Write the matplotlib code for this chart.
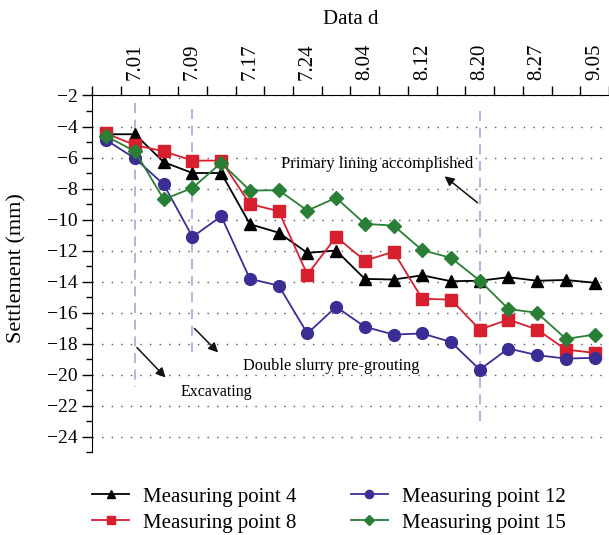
# -*- coding: utf-8 -*-

# settlement curves for measuring points

import matplotlib.pyplot as plt
import numpy as np

plt.rcParams['font.family'] = ['Liberation Serif', 'DejaVu Serif']
plt.rcParams['axes.unicode_minus'] = True

# 18 survey dates, only every second one is labelled on the top axis
n_dates = 18
date_labels = ['7.01', '7.09', '7.17', '7.24', '8.04', '8.12', '8.20', '8.27', '9.05']
label_idx = [1, 3, 5, 7, 9, 11, 13, 15, 17]

mp4 = [-4.5, -4.5, -6.3, -7.0, -7.0, -10.3, -10.85, -12.15, -12.0, -13.83,
       -13.87, -13.6, -13.98, -13.95, -13.72, -13.95, -13.9, -14.08]
mp8 = [-4.45, -5.2, -5.6, -6.2, -6.2, -9.0, -9.46, -13.55, -11.12, -12.65,
       -12.08, -15.12, -15.16, -17.1, -16.45, -17.1, -18.39, -18.6]
mp12 = [-4.88, -6.06, -7.74, -11.12, -9.79, -13.83, -14.26, -17.35, -15.63, -16.92,
        -17.42, -17.35, -17.9, -19.68, -18.32, -18.75, -18.97, -18.92]
mp15 = [-4.63, -5.6, -8.7, -7.96, -6.34, -8.13, -8.11, -9.42, -8.6, -10.28,
        -10.39, -11.98, -12.47, -13.94, -15.77, -16.02, -17.7, -17.42]

# construction stages: (date index, top, bottom)
stages = [(1, -2.5, -20.8), (3, -2.9, -18.6), (13, -3.0, -23.3)]

x = np.arange(n_dates)

fig = plt.figure(figsize=(6.09, 5.35), dpi=100)
ax = fig.add_axes([0.151, 0.155, 0.849, 0.6665])

ax.plot(x, mp4, color='black', lw=1.3, marker='^', ms=8, label='Measuring point 4', zorder=5)
ax.plot(x, mp8, color='#d71f2e', lw=1.3, marker='s', ms=8, label='Measuring point 8', zorder=5)
ax.plot(x, mp12, color='#3a2e94', lw=1.3, marker='o', ms=8.5, label='Measuring point 12', zorder=5)
ax.plot(x, mp15, color='#2a7f36', lw=1.3, marker='D', ms=7, label='Measuring point 15', zorder=5)

for i, top, bot in stages:
    ax.plot([i, i], [top, bot], color='#a9a6dc', lw=1.2, ls=(0, (6, 4)), zorder=2)

arrow = dict(arrowstyle='-|>', color='#111111', lw=1.1, mutation_scale=14)
ax.annotate('', xy=(2.13, -20.32), xytext=(1, -18.13), arrowprops=arrow)
ax.annotate('', xy=(3.96, -18.7), xytext=(3, -16.9), arrowprops=arrow)
ax.annotate('', xy=(11.7, -7.1), xytext=(13, -9.03), arrowprops=arrow)
ax.text(3.83, -21.1, 'Excavating', fontsize=11.5, ha='center', va='center')
ax.text(7.83, -19.42, 'Double slurry pre-grouting', fontsize=11.8, ha='center', va='center')
ax.text(9.44, -6.4, 'Primary lining accomplished', fontsize=12, ha='center', va='center')

ax.set_xlim(-0.5, n_dates - 0.5)
ax.set_ylim(-25, -2)

# top axis: ticks between dates, labels on dates
ax.xaxis.tick_top()
ax.xaxis.set_label_position('top')
ax.set_xticks(np.arange(-0.5, n_dates, 1.0))
ax.set_xticklabels([])
ax.set_xticks(label_idx, minor=True)
ax.set_xticklabels(date_labels, minor=True, rotation=90, fontsize=15)
ax.tick_params(axis='x', which='major', direction='out', length=6.5, width=1)
ax.tick_params(axis='x', which='minor', length=0, pad=11)
ax.set_xlabel('Data d', fontsize=15, labelpad=14)

ax.set_yticks(np.arange(-24, -1, 2))
ax.set_yticks(np.arange(-25, -2, 2), minor=True)
ax.tick_params(axis='y', which='major', direction='out', length=7, width=1, labelsize=14)
ax.tick_params(axis='y', which='minor', direction='out', length=4, width=1)
ax.set_ylabel('Settlement (mm)', fontsize=16)
ax.yaxis.set_label_coords(-0.126, 0.517)

ax.grid(axis='y', which='major', color='#555555', lw=1.0, ls=(0, (1, 5.9)))
ax.spines['right'].set_visible(False)
ax.spines['bottom'].set_visible(False)

fig.legend(loc='upper left', bbox_to_anchor=(0.138, 0.105), ncol=2, frameon=False,
           fontsize=15, markerscale=0.7, handlelength=1.75, columnspacing=2.6,
           labelspacing=0.3, handletextpad=0.7, borderaxespad=0)

plt.savefig('out.png', dpi=100)
